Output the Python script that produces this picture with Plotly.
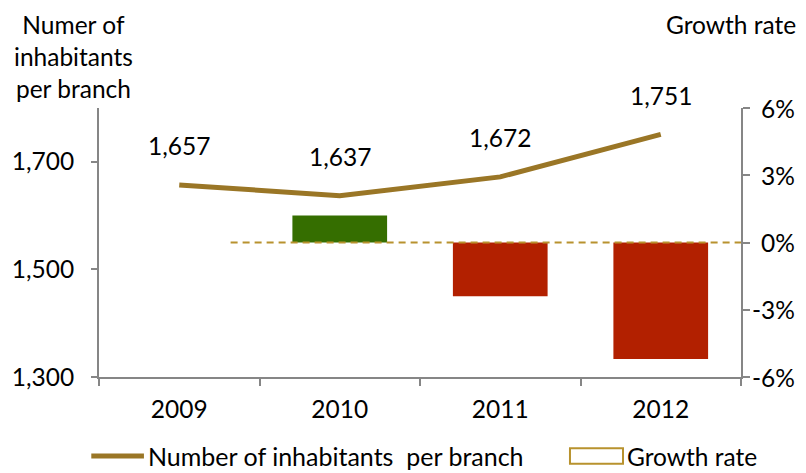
import plotly.graph_objects as go

years = ["2009", "2010", "2011", "2012"]
inhabitants = [1657, 1637, 1672, 1751]
growth_years = ["2010", "2011", "2012"]
growth_rate = [1.2, -2.4, -5.2]
left_ticks = [1300, 1500, 1700]
right_ticks = [-6, -3, 0, 3, 6]
right_tick_text = ["-6%", "-3%", "0%", "3%", "6%"]
legend_labels = ["Number of inhabitants  per branch", "Growth rate"]

FONT = "Lato"
FS = 24.5
GOLD = "#9a7626"
DASH_GOLD = "#b8922e"
AXIS = "#868686"

bar_colors = ["#356e00" if v > 0 else "#b22000" for v in growth_rate]

fig = go.Figure()
fig.add_trace(go.Bar(
    x=growth_years, y=growth_rate, yaxis="y2", width=0.59,
    marker=dict(color=bar_colors, line=dict(width=0)),
    showlegend=False, name=legend_labels[1],
))
fig.add_trace(go.Scatter(
    x=years, y=inhabitants, mode="lines",
    line=dict(color=GOLD, width=5),
    showlegend=False, name=legend_labels[0],
))

for i, v in enumerate(inhabitants):
    fig.add_annotation(x=i, y=v, xref="x", yref="y", text=f"{v:,}",
                       showarrow=False, yshift=39,
                       font=dict(family=FONT, size=FS, color="black"))

fig.add_shape(type="line", xref="x", yref="y2", x0=0.32, x1=3.5, y0=0, y1=0,
              line=dict(color=DASH_GOLD, width=2, dash="7px,5px"))

# right-axis tick labels, right aligned like the reference
for t, lab in zip(right_ticks, right_tick_text):
    fig.add_annotation(xref="paper", yref="y2", x=1.0872, y=t, text=lab,
                       xanchor="right", yanchor="middle", showarrow=False,
                       font=dict(family=FONT, size=FS, color="black"))

# axis titles
fig.add_annotation(xref="paper", yref="paper", x=-0.04, y=1.0, yshift=100,
                   xanchor="center", yanchor="top", showarrow=False, align="center",
                   text="Numer of<br>inhabitants<br>per branch",
                   font=dict(family=FONT, size=FS, color="black"))
fig.add_annotation(xref="paper", yref="paper", x=1.089, y=1.0, yshift=100,
                   xanchor="right", yanchor="top", showarrow=False,
                   text="Growth rate",
                   font=dict(family=FONT, size=FS, color="black"))

# manual legend
LEG_Y = -0.2937
fig.add_shape(type="line", xref="paper", yref="paper", x0=-0.012, x1=0.070,
              y0=LEG_Y, y1=LEG_Y, line=dict(color=GOLD, width=5))
fig.add_annotation(xref="paper", yref="paper", x=0.074, y=LEG_Y,
                   xanchor="left", yanchor="middle", showarrow=False, borderpad=0,
                   text=legend_labels[0],
                   font=dict(family=FONT, size=25, color="black"))
fig.add_shape(type="rect", xref="paper", yref="paper", x0=0.7336, x1=0.8162,
              y0=LEG_Y - 0.029, y1=LEG_Y + 0.029, line=dict(color=DASH_GOLD, width=2),
              fillcolor="white")
fig.add_annotation(xref="paper", yref="paper", x=0.821, y=LEG_Y,
                   xanchor="left", yanchor="middle", showarrow=False, borderpad=0,
                   text=legend_labels[1],
                   font=dict(family=FONT, size=FS, color="black"))

# page body has an 8px margin, so the figure is offset by 8px
fig.update_layout(
    width=798, height=465,
    margin=dict(l=91, r=65, t=100, b=96),
    paper_bgcolor="white", plot_bgcolor="white",
    font=dict(family=FONT, size=FS, color="black"),
    showlegend=False,
    xaxis=dict(
        type="category", categoryorder="array", categoryarray=years,
        range=[-0.5, 3.5], automargin=False,
        showline=True, linecolor=AXIS, linewidth=2,
        ticks="outside", tickson="boundaries", ticklen=7, tickcolor=AXIS, tickwidth=2,
        ticklabelstandoff=10,
        showgrid=False, zeroline=False,
        tickfont=dict(family=FONT, size=FS),
    ),
    yaxis=dict(
        range=[1300, 1800], tickvals=left_ticks, tickformat=",", automargin=False,
        showline=True, linecolor=AXIS, linewidth=2,
        ticks="outside", ticklen=6, tickcolor=AXIS, tickwidth=2,
        ticklabelstandoff=12,
        showgrid=False, zeroline=False,
        tickfont=dict(family=FONT, size=FS),
    ),
    yaxis2=dict(
        overlaying="y", side="right", anchor="x",
        range=[-6, 6], tickvals=right_ticks, showticklabels=False, automargin=False,
        showline=True, linecolor=AXIS, linewidth=2,
        ticks="outside", ticklen=7, tickcolor=AXIS, tickwidth=2,
        showgrid=False, zeroline=False,
    ),
)

fig.write_html("out.html")
